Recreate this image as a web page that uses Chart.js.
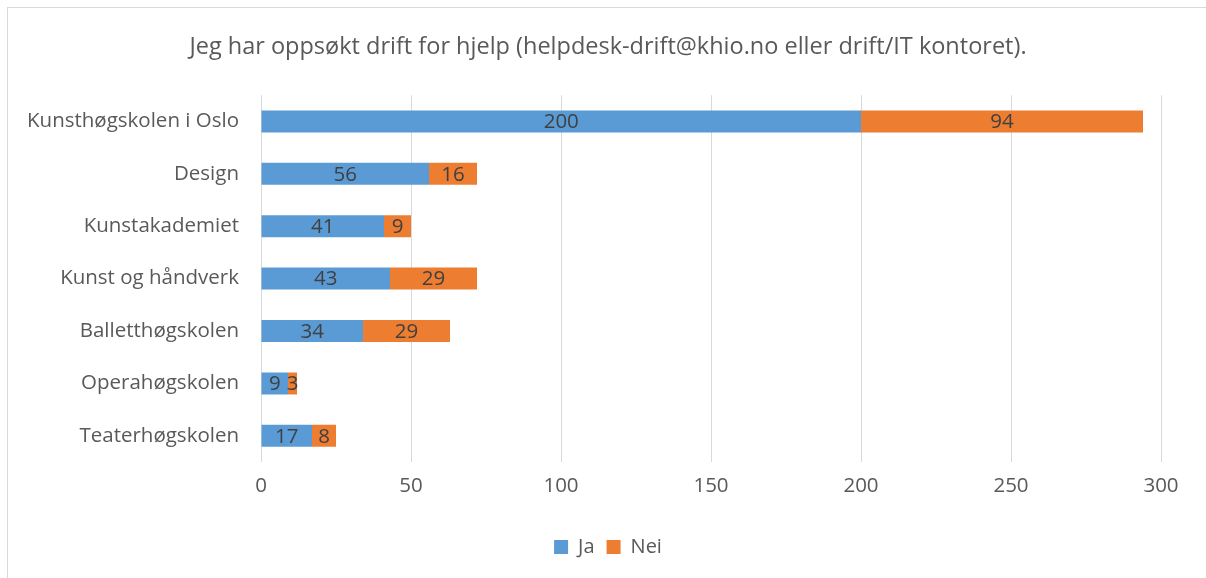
<!DOCTYPE html>
<html>
<head>
<meta charset="utf-8">
<script src="https://cdn.jsdelivr.net/npm/chart.js@4/dist/chart.umd.min.js"></script>
<style>
html,body{margin:0;padding:0;background:#fff;}
#frame{position:absolute;left:7px;top:7px;width:1210px;height:580px;border:1px solid #d9d9d9;box-sizing:border-box;}
#c{position:absolute;left:0;top:0;}
</style>
</head>
<body>
<div id="frame"></div>
<canvas id="c" width="1206" height="578"></canvas>
<script>
const titleText = 'Jeg har oppsøkt drift for hjelp (helpdesk-drift@khio.no eller drift/IT kontoret).';
const categories = ['Kunsthøgskolen i Oslo','Design','Kunstakademiet','Kunst og håndverk','Balletthøgskolen','Operahøgskolen','Teaterhøgskolen'];
const jaValues = [200,56,41,43,34,9,17];
const neiValues = [94,16,9,29,29,3,8];
const seriesNames = ['Ja','Nei'];
const xTicks = [0,50,100,150,200,250,300];

const FONT = '"Open Sans", Lato, sans-serif';
const TEXT = '#595959';

const labelPlugin = {
  id:'barLabels',
  afterLayout(chart){
    // let the category labels extend into the left padding without clipping
    chart.scales.y.left = 0;
  },
  afterDatasetsDraw(chart){
    const ctx = chart.ctx;
    ctx.save();
    ctx.font = '20.5px ' + FONT;
    ctx.fillStyle = '#404040';
    ctx.textAlign = 'center';
    ctx.textBaseline = 'middle';
    chart.data.datasets.forEach((ds, di) => {
      const meta = chart.getDatasetMeta(di);
      meta.data.forEach((bar, i) => {
        const cx = (bar.x + bar.base) / 2;
        ctx.fillText(String(ds.data[i]), cx, bar.y + 1);
      });
    });
    ctx.restore();
  }
};

new Chart(document.getElementById('c'), {
  type:'bar',
  data:{
    labels:categories,
    datasets:[
      {label:seriesNames[0], data:jaValues, backgroundColor:'#5B9BD5', borderWidth:0, barPercentage:0.84, categoryPercentage:0.5},
      {label:seriesNames[1], data:neiValues, backgroundColor:'#ED7D31', borderWidth:0, barPercentage:0.84, categoryPercentage:0.5}
    ]
  },
  options:{
    indexAxis:'y',
    responsive:false,
    animation:false,
    layout:{padding:{left:55,right:45,top:0,bottom:11}},
    plugins:{
      title:{display:true,text:titleText,color:TEXT,font:{family:FONT,size:23.5,weight:'normal'},padding:{top:33,bottom:34}},
      legend:{position:'bottom',labels:{color:TEXT,font:{family:FONT,size:20},boxWidth:14,boxHeight:14,padding:12},
        onClick:null},
      tooltip:{enabled:false}
    },
    scales:{
      x:{stacked:true,min:0,max:300,
        afterBuildTicks(axis){axis.ticks = xTicks.map(v=>({value:v}));},
        grid:{color:'#d9d9d9',lineWidth:1,drawTicks:false},
        border:{display:false},
        ticks:{color:TEXT,font:{family:FONT,size:20.5},padding:12},
        afterFit(axis){axis.height = 63;}
      },
      y:{stacked:true,
        grid:{display:false,drawTicks:false},
        border:{display:false},
        ticks:{color:TEXT,font:{family:FONT,size:20.5},padding:22},
        afterFit(axis){axis.width = 206;}
      }
    }
  },
  plugins:[labelPlugin]
});
</script>
</body>
</html>
